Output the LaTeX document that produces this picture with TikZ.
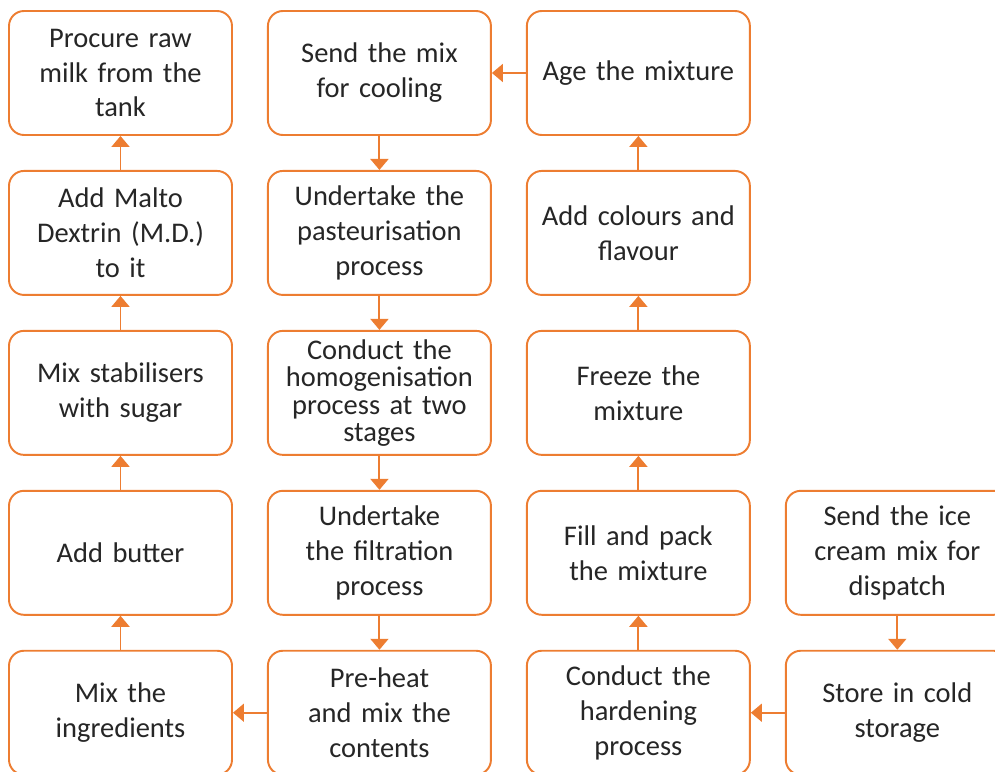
\documentclass[tikz,border=0pt]{standalone}
\usepackage{fontspec}
\setmainfont{Carlito}
\usetikzlibrary{arrows.meta, positioning}
\definecolor{laranja}{RGB}{237, 125, 49}
\definecolor{texto}{RGB}{38, 38, 38}
\tikzset{
  etapa/.style={
    draw=laranja, line width=1.1pt, rounded corners=0.3cm, fill=white,
    minimum width=4.46cm, minimum height=2.48cm, text width=4.2cm, inner sep=2pt,
    align=center, text=texto, font=\fontsize{16.2}{19.9}\selectfont
  },
  etapaDensa/.style={etapa, font=\fontsize{16.2}{15.6}\selectfont},
  seta/.style={-{Triangle[length=0.22cm, width=0.36cm]}, line width=1.1pt, laranja},
}
\begin{document}
\begin{tikzpicture}[node distance=0.68cm and 0.68cm]
  \useasboundingbox (0,0) rectangle (19.9,-15.42);
  \clip (0,0) rectangle (19.9,-15.42);

  % primeira coluna
  \node[etapa] (procure) at (2.41,-1.46) {Procure raw\\milk from the\\tank};
  \node[etapa, below=of procure] (malto) {Add Malto\\Dextrin (M.D.)\\to it};
  \node[etapa, below=of malto] (stabil) {Mix stabilisers\\with sugar};
  \node[etapa, below=of stabil] (butter) {Add butter};
  \node[etapa, below=of butter] (mixing) {Mix the\\ingredients};

  % segunda coluna
  \node[etapa, right=of procure] (cooling) {Send the mix\\for cooling};
  \node[etapa, below=of cooling] (pasteur) {Undertake the\\pasteurisation\\process};
  \node[etapaDensa, below=of pasteur] (homogen) {Conduct the\\homogenisation\\process at two\\stages};
  \node[etapa, below=of homogen] (filtration) {Undertake\\the filtration\\process};
  \node[etapa, below=of filtration] (preheat) {Pre-heat\\and mix the\\contents};

  % terceira coluna
  \node[etapa, right=of cooling] (ageing) {Age the mixture};
  \node[etapa, below=of ageing] (colours) {Add colours and\\flavour};
  \node[etapa, below=of colours] (freeze) {Freeze the\\mixture};
  \node[etapa, below=of freeze] (fillpack) {Fill and pack\\the mixture};
  \node[etapa, below=of fillpack] (harden) {Conduct the\\hardening\\process};

  % quarta coluna
  \node[etapa, right=of fillpack] (dispatch) {Send the ice\\cream mix for\\dispatch};
  \node[etapa, below=of dispatch] (coldstore) {Store in cold\\storage};

  \draw[seta] (malto) -- (procure);
  \draw[seta] (stabil) -- (malto);
  \draw[seta] (butter) -- (stabil);
  \draw[seta] (mixing) -- (butter);
  \draw[seta] (preheat) -- (mixing);

  \draw[seta] (cooling) -- (pasteur);
  \draw[seta] (pasteur) -- (homogen);
  \draw[seta] (homogen) -- (filtration);
  \draw[seta] (filtration) -- (preheat);

  \draw[seta] (ageing) -- (cooling);
  \draw[seta] (colours) -- (ageing);
  \draw[seta] (freeze) -- (colours);
  \draw[seta] (fillpack) -- (freeze);
  \draw[seta] (harden) -- (fillpack);

  \draw[seta] (dispatch) -- (coldstore);
  \draw[seta] (coldstore) -- (harden);
\end{tikzpicture}
\end{document}
